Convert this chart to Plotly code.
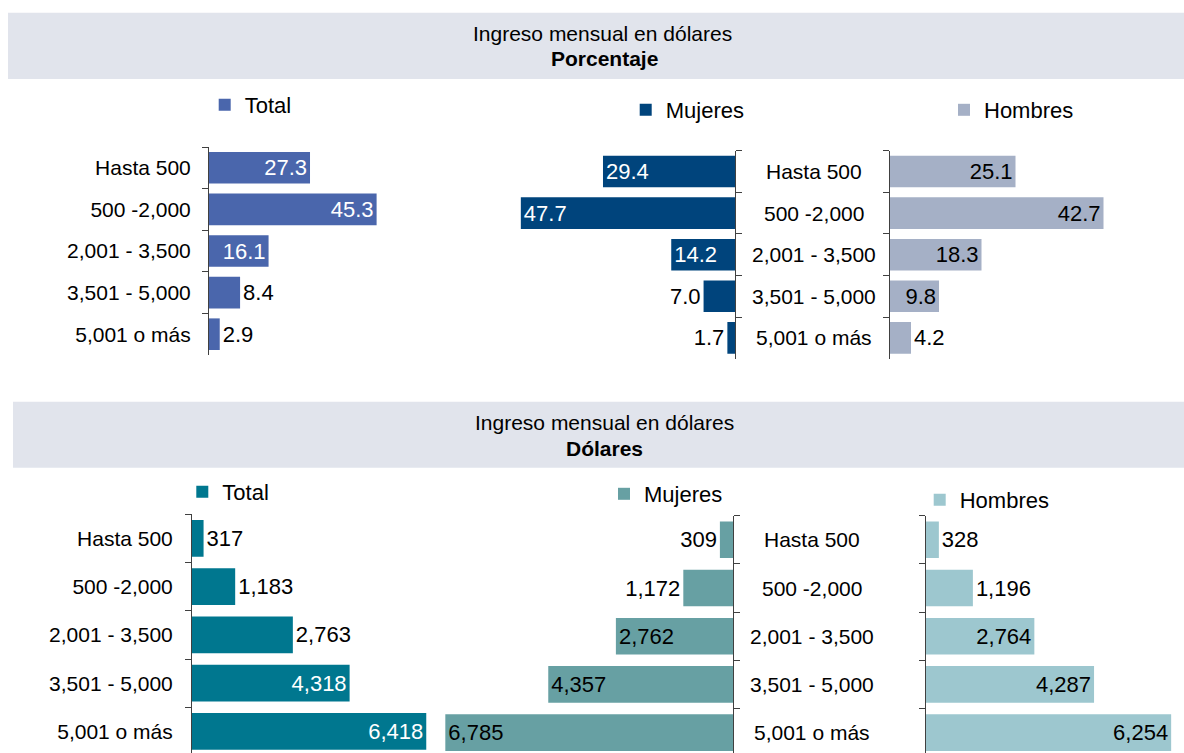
import plotly.graph_objects as go

# ---------------- data ----------------
categories = ["Hasta 500", "500 -2,000", "2,001 - 3,500", "3,501 - 5,000", "5,001 o más"]
pct_total = [27.3, 45.3, 16.1, 8.4, 2.9]
pct_mujeres = [29.4, 47.7, 14.2, 7.0, 1.7]
pct_hombres = [25.1, 42.7, 18.3, 9.8, 4.2]
usd_total = [317, 1183, 2763, 4318, 6418]
usd_mujeres = [309, 1172, 2762, 4357, 6785]
usd_hombres = [328, 1196, 2764, 4287, 6254]

header_line1 = "Ingreso mensual en dólares"
header_top = "Porcentaje"
header_bottom = "Dólares"

# ---------------- style ----------------
W, H = 1184, 753
FONT = "Liberation Sans, Arial, sans-serif"
C_TOTAL_P = "#4A66AC"
C_MUJ_P = "#00447C"
C_HOM_P = "#A5B0C6"
C_TOTAL_D = "#00778F"
C_MUJ_D = "#67A0A3"
C_HOM_D = "#9DC7CF"
C_BAND = "#E1E4EC"
AX_COLOR = "#404040"


def px_x(v):
    return v / W


def px_y(v):
    return 1 - v / H


fig = go.Figure()


def add_bar(values, color, name, xa, ya, legend, tpos, in_color, fmt):
    fig.add_trace(go.Bar(
        y=categories, x=values, orientation="h", name=name,
        marker=dict(color=color, line=dict(width=0)),
        width=0.76,
        xaxis=xa, yaxis=ya, legend=legend, showlegend=True,
        texttemplate=fmt, textposition=tpos, insidetextanchor="end",
        insidetextfont=dict(family=FONT, size=22, color=in_color),
        outsidetextfont=dict(family=FONT, size=22, color="black"),
        constraintext="none", cliponaxis=False, hoverinfo="skip",
    ))


add_bar(pct_total, C_TOTAL_P, "Total", "x", "y", "legend",
        ["inside", "inside", "inside", "outside", "outside"], "white", "%{x:.1f}")
add_bar(pct_mujeres, C_MUJ_P, "Mujeres", "x2", "y2", "legend2",
        ["inside", "inside", "inside", "outside", "outside"], "white", "%{x:.1f}")
add_bar(pct_hombres, C_HOM_P, "Hombres", "x3", "y3", "legend3",
        ["inside", "inside", "inside", "inside", "outside"], "black", "%{x:.1f}")
add_bar(usd_total, C_TOTAL_D, "Total", "x4", "y4", "legend4",
        ["outside", "outside", "outside", "inside", "inside"], "white", "%{x:,.0f}")
add_bar(usd_mujeres, C_MUJ_D, "Mujeres", "x5", "y5", "legend5",
        ["outside", "outside", "inside", "inside", "inside"], "black", "%{x:,.0f}")
add_bar(usd_hombres, C_HOM_D, "Hombres", "x6", "y6", "legend6",
        ["outside", "outside", "inside", "inside", "inside"], "black", "%{x:,.0f}")


def xax(domain, rng):
    return dict(domain=domain, range=rng, visible=False, fixedrange=True)


def yax(domain, rng, side="left", labels=False, anchor=None, standoff=13):
    d = dict(domain=domain, range=rng, type="category",
             categoryorder="array", categoryarray=categories,
             showline=True, linecolor=AX_COLOR, linewidth=1,
             ticks="outside", tickson="boundaries", ticklen=6,
             tickcolor=AX_COLOR, tickwidth=1,
             showgrid=False, zeroline=False, side=side,
             showticklabels=labels, fixedrange=True,
             tickfont=dict(family=FONT, size=21, color="black"),
             ticklabelstandoff=standoff)
    if anchor:
        d["anchor"] = anchor
    return d


# top panels (Porcentaje)
top_y_total = [px_y(355), px_y(147)]
top_y_side = [px_y(358.7), px_y(150.7)]
# bottom panels (Dólares) - cut at the bottom of the picture
bot_y_total = [0, px_y(514.3)]
bot_y_side = [0, px_y(515.7)]
bot_rng_total = [(753 - 514.3) / 48.25 - 0.5, -0.5]
bot_rng_side = [(753 - 515.7) / 48.2 - 0.5, -0.5]

layout = dict(
    width=W, height=H, autosize=False,
    margin=dict(l=0, r=0, t=0, b=0),
    paper_bgcolor="white", plot_bgcolor="rgba(0,0,0,0)",
    font=dict(family=FONT, color="black"),
    barmode="overlay",
    xaxis=xax([px_x(209), px_x(209 + 3.70 * 60)], [0, 60]),
    yaxis=yax(top_y_total, [4.5, -0.5], "left", True, "x", 13),
    xaxis2=xax([px_x(735 - 4.49 * 55), px_x(735)], [55, 0]),
    yaxis2=yax(top_y_side, [4.5, -0.5], "right", False, "x2"),
    xaxis3=xax([px_x(890), px_x(890 + 5.0 * 57)], [0, 57]),
    yaxis3=yax(top_y_side, [4.5, -0.5], "left", False, "x3"),
    xaxis4=xax([px_x(192), px_x(192 + 0.0365 * 6700)], [0, 6700]),
    yaxis4=yax(bot_y_total, bot_rng_total, "left", True, "x4", 14),
    xaxis5=xax([px_x(733 - 0.0424 * 7000), px_x(733)], [7000, 0]),
    yaxis5=yax(bot_y_side, bot_rng_side, "right", False, "x5"),
    xaxis6=xax([px_x(926), 1.0], [0, 258 / 0.0392]),
    yaxis6=yax(bot_y_side, bot_rng_side, "left", False, "x6"),
)


def leg(text_x, cy):
    return dict(x=px_x(text_x - 36), y=px_y(cy), xanchor="left", yanchor="middle",
                bgcolor="rgba(0,0,0,0)", borderwidth=0,
                font=dict(family=FONT, size=22, color="black"),
                itemwidth=30, itemclick=False, itemdoubleclick=False)


layout["legend"] = leg(240.7, 105)
layout["legend2"] = leg(661.7, 110)
layout["legend3"] = leg(980, 110)
layout["legend4"] = leg(218.3, 492)
layout["legend5"] = leg(640, 494)
layout["legend6"] = leg(955.7, 500)

fig.update_layout(**layout)

# header bands
shapes = [
    dict(type="rect", xref="paper", yref="paper", x0=px_x(8), x1=1, y0=px_y(79), y1=px_y(12.7),
         fillcolor=C_BAND, line=dict(width=0), layer="below"),
    dict(type="rect", xref="paper", yref="paper", x0=px_x(13), x1=1, y0=px_y(467.7), y1=px_y(401.7),
         fillcolor=C_BAND, line=dict(width=0), layer="below"),
]
fig.update_layout(shapes=shapes)

ann = []


def text_ann(txt, x, y, size=21, xref="paper", yref="paper"):
    ann.append(dict(text=txt, x=x, y=y, xref=xref, yref=yref, showarrow=False,
                    xanchor="center", yanchor="middle",
                    font=dict(family=FONT, size=size, color="black")))


text_ann(header_line1, px_x(602.5), px_y(34))
text_ann("<b>" + header_top + "</b>", px_x(604), px_y(58))
text_ann(header_line1, px_x(604), px_y(423))
text_ann("<b>" + header_bottom + "</b>", px_x(604), px_y(448))

# centred category labels between Mujeres and Hombres
for c in categories:
    text_ann(c, px_x(814), c, xref="paper", yref="y3")
    text_ann(c, px_x(812), c, xref="paper", yref="y6")

fig.update_layout(annotations=ann)

fig.write_html("out.html", config={"displayModeBar": False},
               post_script="document.body.style.margin='0';")
